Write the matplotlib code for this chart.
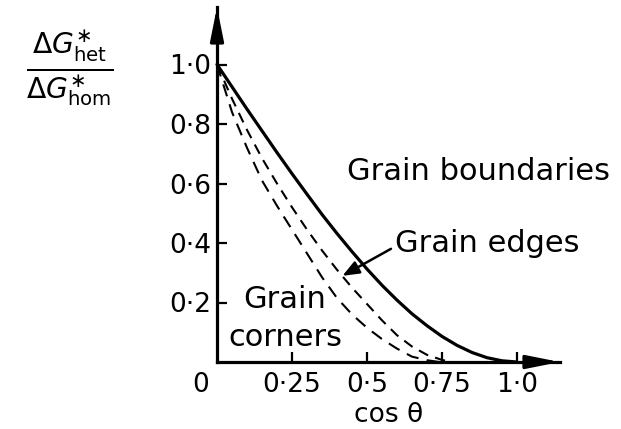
import matplotlib
matplotlib.use("Agg")
import matplotlib.pyplot as plt

# Data
cos_gb = [0.0, 0.05, 0.1, 0.15, 0.2, 0.25, 0.3, 0.35, 0.4, 0.45, 0.5, 0.55,
          0.6, 0.65, 0.7, 0.75, 0.8, 0.85, 0.9, 0.95, 1.0]
ratio_gb = [1.0, 0.925, 0.85, 0.777, 0.704, 0.633, 0.564, 0.496, 0.432, 0.371,
            0.3125, 0.258, 0.208, 0.162, 0.122, 0.086, 0.056, 0.032, 0.0145, 0.004, 0.0]

cos_edge = [0.0, 0.05, 0.1, 0.15, 0.2, 0.25, 0.3, 0.35, 0.4, 0.45, 0.5, 0.55,
            0.6, 0.65, 0.7, 0.75, 0.78]
ratio_edge = [1.0, 0.885, 0.78, 0.685, 0.60, 0.52, 0.445, 0.375, 0.31, 0.25,
              0.195, 0.14, 0.09, 0.052, 0.024, 0.007, 0.0]

cos_corner = [0.0, 0.05, 0.1, 0.15, 0.2, 0.25, 0.3, 0.35, 0.4, 0.45, 0.5, 0.55,
              0.6, 0.65, 0.7, 0.74]
ratio_corner = [1.0, 0.84, 0.72, 0.61, 0.525, 0.445, 0.365, 0.285, 0.215, 0.16,
                0.115, 0.077, 0.045, 0.018, 0.006, 0.0]

xticks = [0.25, 0.5, 0.75, 1.0]
xticklabels = ["0·25", "0·5", "0·75", "1·0"]
yticks = [0.2, 0.4, 0.6, 0.8, 1.0]
yticklabels = ["0·2", "0·4", "0·6", "0·8", "1·0"]

fig = plt.figure(figsize=(6.21, 4.29), dpi=100)
W, H = 621, 429
x0_px, y0_px = 217, 362
sx, sy = 300.0, 297.5
xmax, ymax = 1.143, 1.193
ax = fig.add_axes([x0_px / W, (H - y0_px) / H, xmax * sx / W, ymax * sy / H])
ax.set_xlim(0, xmax)
ax.set_ylim(0, ymax)

for s in ["top", "right"]:
    ax.spines[s].set_visible(False)
for s in ["left", "bottom"]:
    ax.spines[s].set_linewidth(2.3)

ax.plot(cos_gb, ratio_gb, color="black", lw=2.3, solid_capstyle="round", clip_on=False)
ax.plot(cos_edge, ratio_edge, color="black", lw=1.5, dashes=(5, 3.5), clip_on=False)
ax.plot(cos_corner, ratio_corner, color="black", lw=1.5, dashes=(6, 4), clip_on=False)

# axis arrows
arrow_style = dict(arrowstyle="-|>,head_length=1.0,head_width=0.2", color="black",
                   lw=2.3, mutation_scale=20, shrinkA=0, shrinkB=0)
ax.annotate("", xy=(1, 0), xytext=(0.9, 0), xycoords="axes fraction",
            textcoords="axes fraction", arrowprops=arrow_style, annotation_clip=False)
ax.annotate("", xy=(0, 1), xytext=(0, 0.9), xycoords="axes fraction",
            textcoords="axes fraction", arrowprops=arrow_style, annotation_clip=False)

ax.set_xticks(xticks)
ax.set_xticklabels(xticklabels)
ax.set_yticks(yticks)
ax.set_yticklabels(yticklabels)
ax.tick_params(direction="in", length=7, width=1.6, labelsize=19, pad=7)
ax.tick_params(axis="y", pad=4)

ax.text(-0.053, -0.078, "0", fontsize=19, ha="center", va="center")
ax.set_xlabel("cos θ", fontsize=19, labelpad=3)

fig.text(70 / W, 1 - 68 / H,
         r"$\frac{\Delta G^{\ast}_{\mathrm{het}}}{\Delta G^{\ast}_{\mathrm{hom}}}$",
         fontsize=29, ha="center", va="center")

ax.text(0.433, 0.64, "Grain boundaries", fontsize=22, ha="left", va="center")
ax.text(0.593, 0.40, "Grain edges", fontsize=22, ha="left", va="center")
ax.text(0.087, 0.21, "Grain", fontsize=22, ha="left", va="center")
ax.text(0.037, 0.084, "corners", fontsize=22, ha="left", va="center")
ax.annotate("", xy=(0.41, 0.285), xytext=(0.588, 0.385),
            arrowprops=dict(arrowstyle="-|>,head_length=0.5,head_width=0.2",
                            color="black", lw=1.8, mutation_scale=20))

fig.savefig("out.png", dpi=100)
